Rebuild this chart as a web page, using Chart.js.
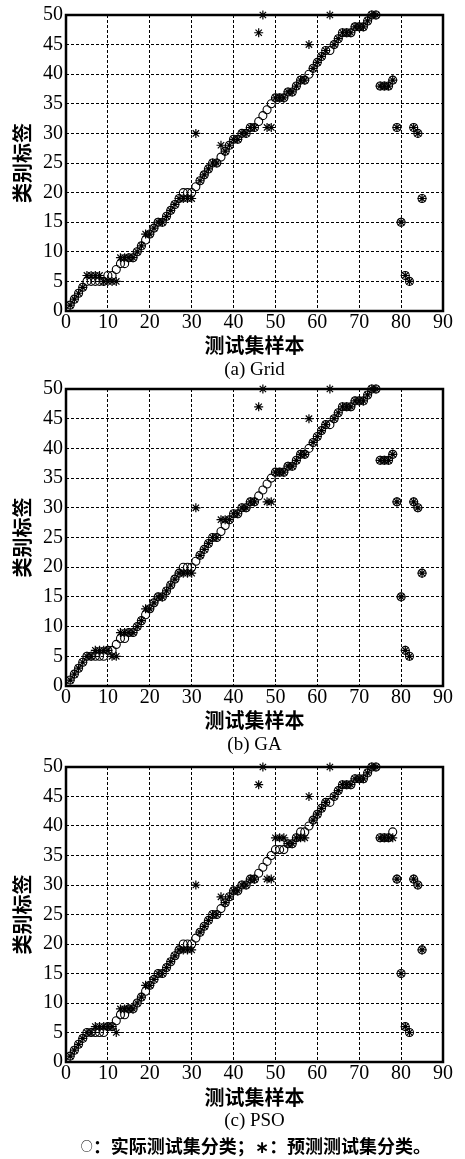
<!DOCTYPE html>
<html>
<head>
<meta charset="utf-8">
<script src="https://cdn.jsdelivr.net/npm/chart.js@4"></script>
<style>
  html, body { margin:0; padding:0; background:#fff; }
  body { width:465px; height:1159px; position:relative; overflow:hidden; }
  canvas { position:absolute; left:0; }
  .cap { position:absolute; left:0; width:509px; text-align:center; color:#000;
         font-family:"Liberation Serif", serif; font-size:19px; line-height:20px; white-space:nowrap; }
  .leg { position:absolute; left:0; width:512px; text-align:center; color:#000;
         font-family:"Noto Sans CJK SC", sans-serif; font-size:18px; font-weight:bold; line-height:20px; white-space:nowrap; }
  .leg .m { font-size:12px; font-weight:normal; vertical-align:2px; }
  .leg .s { font-size:17px; font-weight:bold; font-family:"DejaVu Sans", sans-serif; }
</style>
</head>
<body>
<canvas id="c1" width="465" height="360" style="top:0px"></canvas>
<canvas id="c2" width="465" height="360" style="top:374px"></canvas>
<canvas id="c3" width="465" height="360" style="top:752px"></canvas>
<div class="cap" style="top:359px">(a) Grid</div>
<div class="cap" style="top:734px">(b) GA</div>
<div class="cap" style="top:1110px">(c) PSO</div>
<div class="leg" style="top:1135px"><span class="m">○</span>：实际测试集分类；<span class="s">∗</span>：预测测试集分类。</div>
<script>
// ---- data ----
const xTicks = [0, 10, 20, 30, 40, 50, 60, 70, 80, 90];
const yTicks = [0, 5, 10, 15, 20, 25, 30, 35, 40, 45, 50];
const xTitle = '测试集样本';
const yTitle = '类别标签';

const actualClass = [
  1,2,3,4,5,5,5,5,5,6,
  6,7,8,8,9,9,10,11,12,13,
  14,15,15,16,17,18,19,20,20,20,
  21,22,23,24,25,25,26,27,28,29,
  29,30,30,31,31,32,33,34,35,36,
  36,36,37,37,38,39,39,40,41,42,
  43,44,44,45,46,47,47,47,48,48,
  48,49,50,50,38,38,38,39,31,15,
  6,5,31,30,19
];
const predGrid = [
  1,2,3,4,6,6,6,6,5,5,
  5,5,9,9,9,9,10,11,13,13,
  14,15,15,16,17,18,19,19,19,19,
  30,22,23,24,25,25,28,27,28,29,
  29,30,30,31,31,47,50,31,31,36,
  36,36,37,37,38,39,39,45,41,42,
  43,44,50,45,46,47,47,47,48,48,
  48,49,50,50,38,38,38,39,31,15,
  6,5,31,30,19
];
const predGA = [
  1,2,3,4,5,5,6,6,6,6,
  5,5,9,9,9,9,10,11,13,13,
  14,15,15,16,17,18,19,19,19,19,
  30,22,23,24,25,25,28,28,28,29,
  29,30,30,31,31,47,50,31,31,36,
  36,36,37,37,38,39,39,45,41,42,
  43,44,50,45,46,47,47,47,48,48,
  48,49,50,50,38,38,38,39,31,15,
  6,5,31,30,19
];
const predPSO = [
  1,2,3,4,5,5,6,6,6,6,
  6,5,9,9,9,9,10,11,13,13,
  14,15,15,16,17,18,19,19,19,19,
  30,22,23,24,25,25,28,27,28,29,
  29,30,30,31,31,47,50,31,31,38,
  38,38,37,37,38,38,38,45,41,42,
  43,44,50,45,46,47,47,47,48,48,
  48,49,50,50,38,38,38,38,31,15,
  6,5,31,30,19
];

// ---- chart construction ----
const sampleIndex = actualClass.map((_, i) => i + 1);
const toPoints = vals => vals.map((v, i) => ({ x: sampleIndex[i], y: v }));

const framePlugin = {
  id: 'frame',
  beforeDatasetsDraw(chart) {
    const { ctx, chartArea: a } = chart;
    ctx.save();
    ctx.strokeStyle = '#000';
    ctx.lineWidth = 2.5;
    ctx.setLineDash([]);
    ctx.strokeRect(a.left, a.top, a.right - a.left, a.bottom - a.top);
    ctx.restore();
  }
};

const tickFont = { family: 'Liberation Serif', size: 20 };
const titleFont = { family: 'Noto Sans CJK SC', size: 20, weight: 'bold', lineHeight: 1 };

function makeChart(id, pred, plotH, titleCenterLocal) {
  const xAxisH = 360 - 14 - plotH;
  const padB = 360 - 10 - titleCenterLocal;
  return new Chart(document.getElementById(id), {
    type: 'scatter',
    data: {
      datasets: [
        { label: '预测测试集分类', data: toPoints(pred), pointStyle: 'star', pointRadius: 4.5,
          borderColor: '#000', backgroundColor: '#000', borderWidth: 1.2, clip: false },
        { label: '实际测试集分类', data: toPoints(actualClass), pointStyle: 'circle', pointRadius: 4,
          borderColor: '#000', backgroundColor: 'rgba(0,0,0,0)', borderWidth: 1.1, clip: false }
      ]
    },
    options: {
      responsive: false,
      animation: false,
      devicePixelRatio: 1,
      events: [],
      layout: { padding: { left: 0, right: 22, top: 14, bottom: 0 } },
      plugins: { legend: { display: false }, tooltip: { enabled: false } },
      scales: {
        x: {
          type: 'linear', min: xTicks[0], max: xTicks[xTicks.length - 1],
          afterBuildTicks: s => { s.ticks = xTicks.map(v => ({ value: v })); },
          ticks: { font: tickFont, color: '#000', padding: 0, maxRotation: 0, autoSkip: false },
          grid: { color: '#000', lineWidth: 1, drawTicks: false },
          border: { display: false, dash: [3, 2] },
          title: { display: true, text: xTitle, color: '#000', font: titleFont, padding: { top: 0, bottom: padB } },
          afterFit: s => { s.height = xAxisH; }
        },
        y: {
          type: 'linear', min: yTicks[0], max: yTicks[yTicks.length - 1],
          afterBuildTicks: s => { s.ticks = yTicks.map(v => ({ value: v })); },
          ticks: { font: tickFont, color: '#000', padding: 3, autoSkip: false },
          grid: { color: '#000', lineWidth: 1, drawTicks: false },
          border: { display: false, dash: [3, 2] },
          title: { display: true, text: yTitle, color: '#000', font: titleFont, padding: { top: 12.5, bottom: 0 } },
          afterFit: s => { s.width = 66; }
        }
      }
    },
    plugins: [framePlugin]
  });
}

makeChart('c1', predGrid, 297, 345.5);
makeChart('c2', predGA, 298, 346.5);
makeChart('c3', predPSO, 296, 345.5);
</script>
</body>
</html>
